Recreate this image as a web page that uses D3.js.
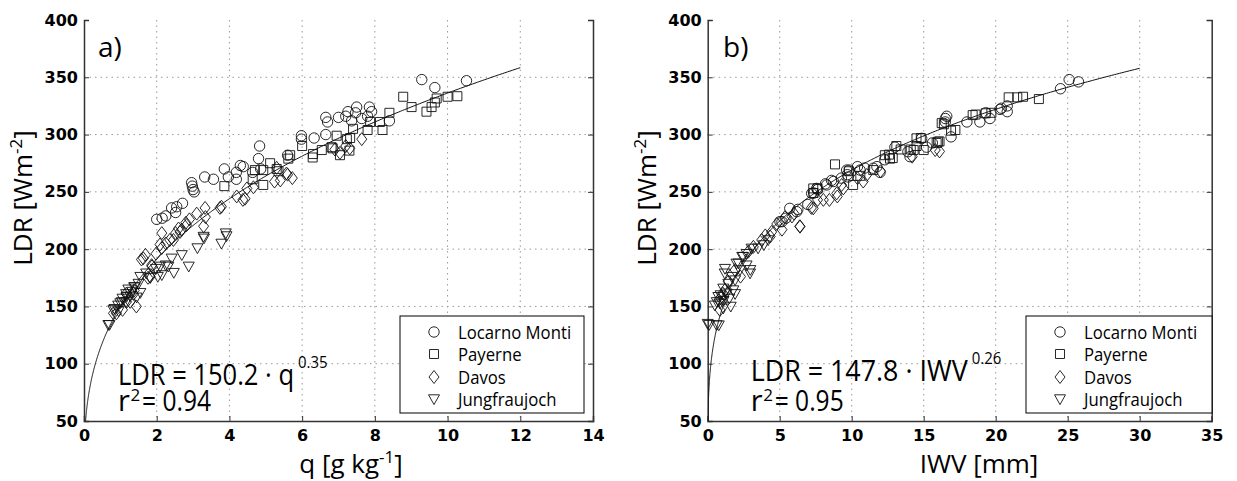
<!DOCTYPE html>
<html><head><meta charset="utf-8">
<script src="https://cdn.jsdelivr.net/npm/d3@7"></script>
<style>body{margin:0;background:#fff}svg{display:block}</style>
</head><body>
<svg id="chart" width="1237" height="481"></svg>
<script>
// ---------- data ----------
const stations = ["Locarno Monti", "Payerne", "Davos", "Jungfraujoch"];
const yTicks = [50, 100, 150, 200, 250, 300, 350, 400];
const xTicksA = [0, 2, 4, 6, 8, 10, 12, 14];
const xTicksB = [0, 5, 10, 15, 20, 25, 30, 35];

// panel a: [q (g/kg), LDR (W/m2)]
const locarnoA = [[10.52,347],[9.29,348],[9.65,341],[8.4,312],[7.91,320],[7.85,324],[7.47,319],[7.5,324],[7.26,320],[7.2,316],[7.0,315],[6.65,315],[6.7,311],[7.36,312],[7.64,314],[7.8,316],[6.65,300],[6.33,297],[5.98,299],[5.98,296],[5.6,282],[4.83,290],[4.8,279],[4.86,270],[4.64,267],[4.38,272],[4.3,273],[4.19,267],[4.19,261],[3.86,270],[3.97,263],[3.56,261],[3.32,263],[2.96,258],[2.98,255],[3.0,252],[3.03,250],[2.71,240],[2.55,237],[2.41,236],[2.52,232],[2.25,229],[2.0,226],[2.15,227]];
const payerneA = [[10.27,333.5],[10.0,333],[9.7,331.5],[9.65,328],[9.56,324],[9.42,320],[9.01,324],[8.78,333],[8.4,319],[8.14,311],[8.21,304],[7.87,311],[7.8,304],[7.4,305],[7.32,297],[7.23,296],[6.95,299],[6.81,289],[6.84,288],[7.3,286],[7.04,282],[6.29,280],[6.54,286.5],[6.0,290],[5.67,282],[5.62,279],[5.12,275],[4.93,269],[4.93,256],[4.7,269],[5.3,270],[5.35,268],[4.64,261],[3.86,255],[6.3,283]];
const davosA = [[7.64,296],[7.31,288],[7.04,284],[7.2,290],[5.73,262],[5.57,266],[5.4,260],[5.24,259],[5.3,271],[4.66,254],[4.48,253],[4.43,244],[4.37,243],[4.2,246],[3.78,237],[3.74,236],[3.33,236],[3.34,228],[3.29,220],[3.1,231],[2.82,221],[2.8,223],[2.69,217],[2.64,215],[2.52,214],[2.46,208],[2.36,208],[2.25,205],[2.14,214],[2.14,201],[2.09,204],[1.98,196],[1.87,185],[1.86,186],[1.69,195],[1.63,192],[1.58,191],[1.82,176],[1.76,175],[1.38,164],[1.36,161],[1.16,161],[1.27,154],[1.17,154],[1.44,150],[1.06,147],[0.89,144],[0.81,144],[5.6,265],[2.9,226],[2.6,218],[6.9,287]];
const jungfrauA = [[3.9,214],[3.78,205],[3.92,211.5],[3.29,211],[3.3,209.5],[3.12,201],[2.69,195],[2.88,185],[2.41,192],[2.47,179.5],[2.25,186],[2.32,185],[2.09,185],[2.03,176],[1.98,183],[2.14,177.5],[1.71,179],[1.82,175],[1.55,176],[1.55,162],[1.38,167],[1.4,167],[1.22,165],[1.16,161],[1.06,157],[1.17,158.5],[1.0,153],[1.04,154],[1.16,154],[0.94,151],[0.84,148],[0.81,147],[0.95,146],[0.67,134],[0.7,134],[1.27,159],[1.33,163],[1.5,170],[1.45,158]];

// panel b: [IWV (mm), LDR (W/m2)]
const locarnoB = [[25.75,346],[25.1,348],[24.5,340],[20.4,323],[20.8,325],[20.3,322],[20.8,320],[19.6,314],[19.3,319],[18.9,311],[18.0,311],[16.5,314],[16.5,311],[16.9,298],[15.6,292.7],[15.2,289],[14.86,296.7],[14.05,280.7],[13.9,285],[13.0,289],[12.3,278],[11.75,272],[11.5,270.6],[11.97,267],[10.9,270.8],[10.58,269],[10.4,272],[9.83,269],[9.76,263],[9.7,265],[9.65,269],[9.28,262],[8.73,259],[8.6,260],[8.26,256],[8.18,257],[7.63,252],[7.57,253],[7.36,249],[7.22,248.7],[6.95,239],[6.26,234.7],[6.18,232.7],[5.7,235.6],[5.43,227],[5.16,224],[5.02,224],[16.6,316]];
const payerneB = [[23.0,331],[21.9,333],[21.5,332.5],[20.9,332.5],[19.7,319],[19.3,318.6],[18.6,317.5],[18.4,317],[17.2,304],[16.9,303.4],[16.4,309],[16.25,310],[16.1,294],[16.0,293.8],[15.9,292.7],[14.8,297],[14.5,296.7],[14.5,290],[14.3,286.5],[15.0,286.5],[14.1,287],[13.4,287],[13.1,290],[12.85,279.5],[12.66,279],[12.6,282.5],[12.3,282],[10.1,256],[9.8,268],[8.84,274],[7.63,253],[7.33,253],[7.35,249],[11.5,269],[10.6,264]];
const davosB = [[16.1,285.3],[15.8,286.5],[14.2,280.7],[11.04,264.7],[10.8,259],[10.4,262],[9.42,253],[9.3,256],[9.0,246],[8.96,248.7],[8.45,243],[8.03,243],[7.63,243],[7.33,235.6],[7.2,236],[6.41,219.6],[6.4,220],[5.85,228.5],[5.37,228],[5.16,217],[4.44,215],[4.34,211],[4.0,212],[3.75,208],[3.17,202],[2.82,197.8],[2.28,176],[1.9,181.8],[1.43,171.6],[1.2,164.3],[1.04,161.4],[0.97,158.5],[0.85,147],[0.77,155.6],[12.0,268],[6.0,231],[4.8,222]];
const jungfrauB = [[0,135],[0.1,134],[0.62,133.8],[0.77,133.7],[1.18,179],[2.14,187.7],[2.4,193.5],[2.96,182],[2.7,196],[3.5,200.8],[3.9,203.7],[4.2,208],[3.05,200.7],[2.47,193.4],[2.7,186],[2.94,179],[1.2,183],[1.67,176],[1.43,170],[1.08,165.8],[0.74,158.5],[0.85,152.7],[0.63,154],[1.9,173],[2.24,181.8],[1.78,164.3],[1.32,161.5],[1.08,148.4],[2.0,187.6],[0.9,160],[1.5,157],[1.9,161],[1.1,155],[1.6,150],[0.5,151]];

// fits: LDR = coef * x ^ expo
const fitA = { coef: 150.2, expo: 0.35, xMax: 12 };
const fitB = { coef: 147.8, expo: 0.26, xMax: 30 };

// ---------- drawing ----------
const svg = d3.select("#chart");
const textFont = "'Open Sans', 'Noto Sans', sans-serif";
const tickFont = "'DejaVu Sans', sans-serif";

const markerPaths = [
  d3.symbol(d3.symbolCircle, Math.PI * 5.2 * 5.2)(),
  "M-4.5,-4.5h9v9h-9z",
  "M0,-6.5L5,0L0,6.5L-5,0Z",
  "M-5.5,-4.2L5.5,-4.2L0,5.6Z"
];

function condense(sel, f) {
  sel.each(function () {
    const L = this.getComputedTextLength();
    this.setAttribute("textLength", L * f);
    this.setAttribute("lengthAdjust", "spacingAndGlyphs");
  });
}

function drawPanel(cfg) {
  const x = d3.scaleLinear().domain(cfg.xDomain).range(cfg.xRange);
  const y = d3.scaleLinear().domain([50, 400]).range([421, 20]);
  const g = svg.append("g");
  const [x0, x1] = cfg.xRange;

  // grid
  g.append("g").selectAll("line").data(cfg.xTicks.slice(1, -1)).join("line")
    .attr("x1", d => x(d)).attr("x2", d => x(d)).attr("y1", 20).attr("y2", 421)
    .attr("stroke", "#999").attr("stroke-dasharray", "1.5,4").attr("stroke-width", 1);
  g.append("g").selectAll("line").data(yTicks.slice(1, -1)).join("line")
    .attr("x1", x0).attr("x2", x1).attr("y1", d => y(d)).attr("y2", d => y(d))
    .attr("stroke", "#999").attr("stroke-dasharray", "1.5,4").attr("stroke-width", 1);

  // axes
  const ax = d3.axisBottom(x).tickValues(cfg.xTicks).tickSize(-5).tickPadding(10).tickFormat(d3.format("d"));
  const ay = d3.axisLeft(y).tickValues(yTicks).tickSize(-5).tickPadding(6).tickFormat(d3.format("d"));
  const ayr = d3.axisRight(y).tickValues(yTicks).tickSize(-5).tickFormat("");
  const gx = g.append("g").attr("transform", "translate(0,421)").call(ax);
  const gy = g.append("g").attr("transform", `translate(${x0},0)`).call(ay);
  const gyr = g.append("g").attr("transform", `translate(${x1},0)`).call(ayr);
  [gx, gy, gyr].forEach(a => {
    a.select(".domain").attr("stroke", "#333").attr("stroke-width", 1.5);
    a.selectAll(".tick line").attr("stroke", "#333");
    a.selectAll("text").attr("font-family", tickFont).attr("font-weight", "bold")
      .attr("font-size", 16).attr("fill", "#000");
  });
  gx.selectAll("text").attr("dy", "0.6em");

  // fit curve
  const clipId = "clip" + cfg.id;
  svg.append("clipPath").attr("id", clipId).append("rect")
    .attr("x", x0).attr("y", 20).attr("width", x1 - x0).attr("height", 401);
  const xs = (50 / cfg.fit.coef) ** (1 / cfg.fit.expo);
  const curvePts = d3.range(0, 1.0001, 0.002).map(t => {
    const xv = xs + (cfg.fit.xMax - xs) * t * t * t;
    return [xv, cfg.fit.coef * Math.pow(xv, cfg.fit.expo)];
  });
  g.append("path").datum(curvePts).attr("clip-path", `url(#${clipId})`)
    .attr("d", d3.line().x(d => x(d[0])).y(d => y(d[1])))
    .attr("fill", "none").attr("stroke", "#111").attr("stroke-width", 1);

  // markers
  cfg.series.forEach((data, i) => {
    g.append("g").selectAll("path").data(data).join("path")
      .attr("d", markerPaths[i])
      .attr("transform", d => `translate(${x(d[0])},${y(d[1])})`)
      .attr("fill", "none").attr("stroke", "#111").attr("stroke-width", 0.9);
  });

  // panel label
  g.append("text").attr("x", cfg.labelX).attr("y", 57).text(cfg.label)
    .attr("font-family", textFont).attr("font-size", 28).attr("fill", "#000");

  // axis titles
  const yt = g.append("text").attr("transform", `translate(${x0 - 52},198) rotate(-90)`)
    .attr("text-anchor", "middle").attr("font-family", textFont).attr("font-size", 26).attr("fill", "#000");
  yt.append("tspan").text("LDR [Wm");
  yt.append("tspan").text("-2").attr("font-size", 17).attr("dy", -10);
  yt.append("tspan").text("]").attr("dy", 10);

  const xt = g.append("text").attr("x", cfg.xTitleX).attr("y", 473)
    .attr("text-anchor", "middle").attr("font-family", textFont).attr("font-size", 26).attr("fill", "#000");
  cfg.xTitle.forEach(p => {
    const t = xt.append("tspan").text(p.t);
    if (p.sup) t.attr("font-size", 17).attr("dy", -10);
    if (p.down) t.attr("dy", 10);
  });

  // formula
  const fx = x0 + cfg.formulaDx;
  g.append("text").attr("x", fx).attr("y", cfg.formulaY).text(cfg.formula)
    .attr("font-family", textFont).attr("font-size", 29).attr("fill", "#000")
    .attr("textLength", cfg.formulaLen).attr("lengthAdjust", "spacingAndGlyphs");
  g.append("text").attr("x", fx + cfg.formulaLen + 4).attr("y", cfg.formulaY - 17)
    .text(cfg.fit.expo.toFixed(2)).attr("font-family", textFont).attr("font-size", 17).attr("fill", "#000")
    .call(condense, 0.88);
  g.append("text").attr("x", fx).attr("y", 411).text("r")
    .attr("font-family", textFont).attr("font-size", 29).attr("fill", "#000");
  g.append("text").attr("x", fx + 12.5).attr("y", 401).text("2")
    .attr("font-family", textFont).attr("font-size", 17).attr("fill", "#000");
  g.append("text").attr("x", fx + 24).attr("y", 411).text("= " + cfg.r2)
    .attr("font-family", textFont).attr("font-size", 29).attr("fill", "#000")
    .attr("textLength", 69).attr("lengthAdjust", "spacingAndGlyphs");

  // legend
  const lg = g.append("g");
  lg.append("rect").attr("x", cfg.legend[0]).attr("y", 316).attr("width", cfg.legend[1]).attr("height", 97)
    .attr("fill", "#fff").attr("stroke", "#000").attr("stroke-width", 1);
  const rows = [332, 354, 377, 399];
  stations.forEach((s, i) => {
    lg.append("path").attr("d", markerPaths[i])
      .attr("transform", `translate(${cfg.legend[0] + 34},${rows[i]})`)
      .attr("fill", "none").attr("stroke", "#111").attr("stroke-width", 0.9);
    lg.append("text").attr("x", cfg.legend[0] + 58).attr("y", rows[i] + 6.5).text(s)
      .attr("font-family", textFont).attr("font-size", 19).attr("fill", "#000")
      .call(condense, 0.88);
  });
}

drawPanel({
  id: "a", xDomain: [0, 14], xRange: [84, 593], xTicks: xTicksA,
  series: [locarnoA, payerneA, davosA, jungfrauA], fit: fitA,
  label: "a)", labelX: 98, xTitleX: 351,
  xTitle: [{t: "q [g kg"}, {t: "-1", sup: true}, {t: "]", down: true}],
  formula: "LDR = 150.2 \u00B7 q", formulaDx: 34, formulaY: 385, formulaLen: 176, r2: "0.94",
  legend: [400, 184]
});
drawPanel({
  id: "b", xDomain: [0, 35], xRange: [707.7, 1211.7], xTicks: xTicksB,
  series: [locarnoB, payerneB, davosB, jungfrauB], fit: fitB,
  label: "b)", labelX: 723, xTitleX: 979,
  xTitle: [{t: "IWV [mm]"}],
  formula: "LDR = 147.8 \u00B7 IWV", formulaDx: 43, formulaY: 381, formulaLen: 217, r2: "0.95",
  legend: [1026, 186]
});
</script>
</body></html>
